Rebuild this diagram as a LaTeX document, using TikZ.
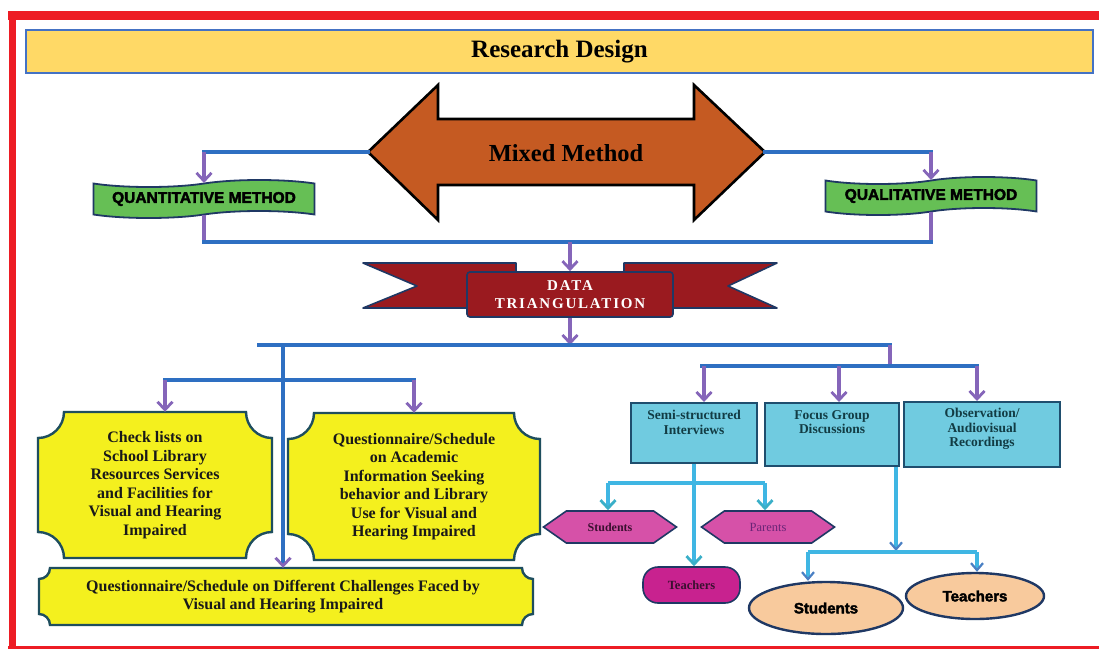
\documentclass[tikz,border=0pt]{standalone}
\usepackage{fontspec}
\setmainfont{Liberation Serif}
\newfontfamily\heavy{Liberation Sans Bold}[FakeBold=2.5]
\newfontfamily\spaced{Liberation Serif}[LetterSpace=12]
\usetikzlibrary{arrows.meta,shapes.symbols,shapes.misc,shapes.geometric}
\definecolor{cFrame}{HTML}{ED1C24}
\definecolor{cTitle}{HTML}{FFD966}
\definecolor{cTitleB}{HTML}{4472C4}
\definecolor{cOrange}{HTML}{C55A22}
\definecolor{cGreen}{HTML}{66BF55}
\definecolor{cNavy}{HTML}{1F3864}
\definecolor{cBan}{HTML}{9A1A1F}
\definecolor{cBlue}{HTML}{2E6FC2}
\definecolor{cPurple}{HTML}{8565B9}
\definecolor{cYellow}{HTML}{F4F01E}
\definecolor{cYB}{HTML}{1E4E5E}
\definecolor{cCyanF}{HTML}{70CBE0}
\definecolor{cCyanB}{HTML}{1F4E6E}
\definecolor{cTxtC}{HTML}{123C44}
\definecolor{cCyl}{HTML}{3FB6E3}
\definecolor{cCyTip}{HTML}{3AAFC8}
\definecolor{cHex}{HTML}{D651A8}
\definecolor{cMag}{HTML}{C8228F}
\definecolor{cPeach}{HTML}{F8CA9D}
\definecolor{cArrB}{HTML}{4A80C4}
\definecolor{cHexTxt}{HTML}{3A1030}
\definecolor{cParTxt}{HTML}{6A2577}
\newcommand\plaque[5]{\draw[plq] ({#1+#5},#2) -- ({#3-#5},#2)
 .. controls ({#3-#5},{#2+0.552*#5}) and ({#3-0.552*#5},{#2+#5}) .. (#3,{#2+#5})
 -- (#3,{#4-#5})
 .. controls ({#3-0.552*#5},{#4-#5}) and ({#3-#5},{#4-0.552*#5}) .. ({#3-#5},#4)
 -- ({#1+#5},#4)
 .. controls ({#1+#5},{#4-0.552*#5}) and ({#1+0.552*#5},{#4-#5}) .. (#1,{#4-#5})
 -- (#1,{#2+#5})
 .. controls ({#1+0.552*#5},{#2+#5}) and ({#1+#5},{#2+0.552*#5}) .. ({#1+#5},#2) -- cycle;}
\tikzset{
 blu/.style={draw=cBlue,line width=3.6pt,line cap=rect},
 pur/.style={draw=cPurple,line width=3.4pt},
 cyl/.style={draw=cCyl,line width=4pt},
 arr/.style={-{Straight Barb[length=8pt,width=15pt,line width=2.8pt]}},
 arrP/.style={-{Straight Barb[length=8pt,width=15pt,line width=2.8pt,color=cPurple]}},
 arrC/.style={-{Straight Barb[length=8pt,width=15pt,line width=2.8pt,color=cCyTip]}},
 arrB/.style={-{Straight Barb[length=7pt,width=12pt,line width=2.2pt,color=cArrB]}},
 plq/.style={fill=cYellow,draw=cYB,line width=2.4pt},
 ytxt/.style={align=center,inner sep=0,font=\bfseries\fontsize{16}{18.5}\selectfont,text=black!90},
 cbox/.style={chamfered rectangle,chamfered rectangle corners={north west,north east},
   chamfered rectangle xsep=9pt,fill=cCyanF,draw=cCyanB,line width=2pt,inner sep=0},
 ctxt/.style={align=center,inner sep=0,anchor=north,text=cTxtC,font=\bfseries\fontsize{13.5}{14.5}\selectfont},
 wave/.style={tape,tape bend top=in and out,tape bend bottom=in and out,tape bend height=7pt,
   fill=cGreen,draw=cNavy,line width=1.8pt,inner sep=0,font=\heavy\fontsize{15.5}{17}\selectfont},
 hexa/.style={signal,signal to=west and east,signal pointer angle=70,fill=cHex,draw=cNavy,
   line width=1.6pt,inner sep=0,minimum width=133pt,minimum height=32pt},
 oval/.style={ellipse,draw=cNavy,line width=2.4pt,fill=cPeach,inner sep=0,font=\heavy\fontsize{15}{17}\selectfont}
}
\begin{document}
\begin{tikzpicture}[x=1pt,y=-1pt]
\useasboundingbox (0,0) rectangle (1099,649);
\fill[white] (0,0) rectangle (1099,649);
% frame
\draw[cFrame,line width=9pt] (8,15) -- (1099,15);
\draw[cFrame,line width=7pt] (12,11) -- (12,649);
\draw[cFrame,line width=3pt] (8,647) -- (1099,647);
% title
\node[fill=cTitle,draw=cTitleB,line width=1.5pt,minimum width=1067pt,minimum height=43pt,inner sep=0,
  font=\bfseries\fontsize{25}{28}\selectfont] (title) at (559.5,51.5) {Research Design};
% mixed method arrow
\draw[fill=cOrange,draw=black,line width=2.6pt] (368,152) -- (438,85) -- (438,119) -- (694,119) -- (694,85)
  -- (765,152) -- (694,220) -- (694,185) -- (438,185) -- (438,220) -- cycle;
\node[font=\bfseries\fontsize{24.5}{28}\selectfont] (mm) at (566,153) {Mixed Method};
\coordinate (mmL) at (368,152);
\coordinate (mmR) at (765,152);
% methods
\node[wave,minimum width=221pt,minimum height=38pt] (quant) at (204,199) {QUANTITATIVE METHOD};
\node[wave,minimum width=211pt,minimum height=38pt] (qual) at (931,196) {QUALITATIVE METHOD};
\coordinate (qa) at (quant.north |- mmL);
\coordinate (qb) at (qual.north |- mmR);
\draw[blu] (mmL) -- (qa);
\draw[blu] (mmR) -- (qb);
\draw[pur,arr] (qa) -- (quant.north);
\draw[pur,arr] (qb) -- (qual.north);
% data triangulation banner
\draw[fill=cBan,draw=cNavy,line width=1.6pt,line join=round] (363,263) -- (516,263) -- (516,272) -- (470,272)
  -- (470,308) -- (363,308) -- (417,286) -- cycle;
\draw[fill=cBan,draw=cNavy,line width=1.6pt,line join=round] (777,263) -- (624,263) -- (624,272) -- (670,272)
  -- (670,308) -- (777,308) -- (728,286) -- cycle;
\node[fill=cBan,draw=cNavy,line width=1.6pt,rounded corners=3pt,minimum width=206pt,minimum height=45pt,
  inner sep=0,align=center,text=white,font=\spaced\bfseries\fontsize{15}{18}\selectfont] (dt) at (570,294.5)
  {DATA\\TRIANGULATION};
\coordinate (mg) at (570,242);
\draw[pur] (quant.south) -- (quant.south |- mg);
\draw[pur] (qual.south) -- (qual.south |- mg);
\draw[blu] (quant.south |- mg) -- (qual.south |- mg);
\draw[pur,arr] (mg) -- (dt.north);
% split
\coordinate (sp) at (570,345);
\coordinate (spL) at (259,345);
\coordinate (spR) at (890,345);
\coordinate (rj) at (890,366);
\draw[pur,arr] (dt.south) -- (sp);
\draw[blu] (spL) -- (spR);
\draw[pur] (spR) -- (rj);
% left yellow boxes
\plaque{38}{412}{272}{558}{26}
\plaque{288}{413}{540}{560}{26}
\plaque{39}{568}{533}{625}{11}
\node[ytxt,minimum width=234pt,minimum height=146pt] (chk) at (155,485)
  {Check lists on\\School Library\\Resources Services\\and Facilities for\\Visual and Hearing\\Impaired};
\node[ytxt,minimum width=252pt,minimum height=147pt] (qas) at (414,486.5)
  {Questionnaire/Schedule\\on Academic\\Information Seeking\\behavior and Library\\Use for Visual and\\Hearing Impaired};
\node[ytxt,minimum width=494pt,minimum height=57pt] (qdc) at (283,596.5)
  {Questionnaire/Schedule on Different Challenges Faced by\\Visual and Hearing Impaired};
\coordinate (lv) at (283,345);
\coordinate (hL) at (165,380);
\coordinate (hR) at (414,380);
\draw[blu,arrP] (lv) -- (lv |- qdc.north);
\draw[blu] (hL) -- (hR);
\draw[pur,arr] (hL) -- (hL |- chk.north);
\draw[pur,arr] (hR) -- (hR |- qas.north);
% right cyan boxes
\node[cbox,minimum width=126pt,minimum height=60pt] (ssi) at (694,433) {};
\node[cbox,minimum width=134pt,minimum height=63pt] (fgd) at (832,434.5) {};
\node[cbox,minimum width=156pt,minimum height=65pt] (obs) at (982,434.5) {};
\node[ctxt] (ssiT) at ([yshift=-8pt]ssi.north) {Semi-structured\\Interviews};
\node[ctxt] (fgdT) at ([yshift=-8pt]fgd.north) {Focus Group\\Discussions};
\node[ctxt] (obsT) at ([yshift=-7pt]obs.north) {Observation/\\Audiovisual\\Recordings};
\coordinate (r1) at (704,366);
\coordinate (r2) at (839,366);
\coordinate (r3) at (977,366);
\draw[blu] (702,366) -- (r3);
\draw[pur,arr] (r1) -- (r1 |- ssi.north);
\draw[pur,arr] (r2) -- (r2 |- fgd.north);
\draw[pur,arr] (r3) -- (r3 |- obs.north);
% interview targets
\node[hexa,font=\bfseries\fontsize{12}{13}\selectfont,text=cHexTxt] (stu) at (610,527) {Students};
\node[hexa,font=\fontsize{12.5}{13}\selectfont,text=cParTxt] (par) at (768,527) {Parents};
\node[draw=cNavy,line width=1.6pt,fill=cMag,rounded corners=15pt,minimum width=97pt,minimum height=36pt,
  inner sep=0,font=\bfseries\fontsize{12.5}{13}\selectfont,text=cHexTxt] (tch) at (691.5,585) {Teachers};
\coordinate (s1) at (608,483);
\coordinate (s2) at (765,483);
\draw[cyl] (s1) -- (s2);
\draw[cyl,arrC] (ssi.south) -- (ssi.south |- tch.north);
\draw[cyl,arrC] (s1) -- (s1 |- stu.north);
\draw[cyl,arrC] (s2) -- (s2 |- par.north);
% focus group targets
\node[oval,minimum width=154pt,minimum height=52pt] (es) at (826,608) {Students};
\node[oval,minimum width=138pt,minimum height=46pt] (et) at (975,596) {Teachers};
\coordinate (f1) at (896,551);
\coordinate (f2) at (808,552);
\coordinate (f3) at (977,552);
\draw[cyl,arrB] (fgd.south -| f1) -- (f1);
\draw[cyl] (f2) -- (f3);
\draw[cyl,arrB] (f2) -- (f2 |- es.north);
\draw[cyl,arrB] (f3) -- (f3 |- et.north);
\end{tikzpicture}
\end{document}
